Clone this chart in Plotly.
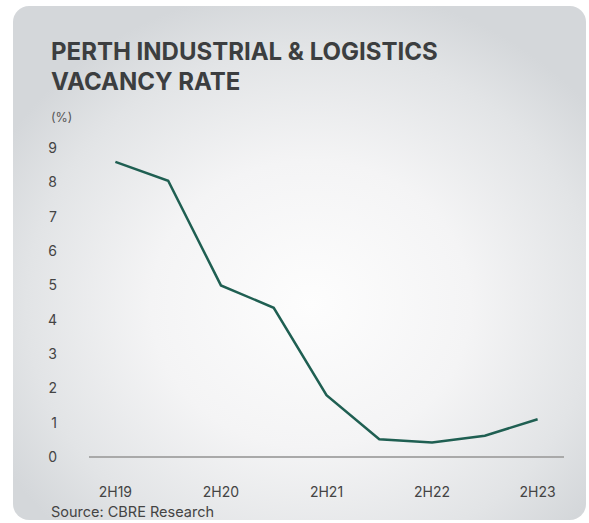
import base64
import plotly.graph_objects as go

periods = ["2H19", "1H20", "2H20", "1H21", "2H21", "1H22", "2H22", "1H23", "2H23"]
vacancy = [8.6, 8.05, 5.0, 4.35, 1.8, 0.52, 0.42, 0.62, 1.1]
tick_labels = ["2H19", "", "2H20", "", "2H21", "", "2H22", "", "2H23"]
y_ticks = [0, 1, 2, 3, 4, 5, 6, 7, 8, 9]

W, H = 589, 523
L, R, T, B = 89, 25, 131, 66
PW, PH = W - L - R, H - T - B

def px(x):
    return (x - L) / PW

def py(y):
    return (H - B - y) / PH

svg = f'''<svg xmlns="http://www.w3.org/2000/svg" width="{W}" height="{H}" viewBox="0 0 {W} {H}">
<defs><radialGradient id="g" cx="52%" cy="58%" r="62%">
<stop offset="0" stop-color="#fdfdfd"/>
<stop offset="0.45" stop-color="#f4f4f5"/>
<stop offset="0.8" stop-color="#e2e4e6"/>
<stop offset="1" stop-color="#d4d7da"/>
</radialGradient></defs>
<rect x="0" y="0" width="{W}" height="{H}" fill="#ffffff"/>
<rect x="13" y="6" width="573" height="514" rx="16" ry="16" fill="url(#g)"/>
</svg>'''
src = "data:image/svg+xml;base64," + base64.b64encode(svg.encode()).decode()

fig = go.Figure()
fig.add_trace(go.Scatter(
    x=list(range(len(periods))), y=vacancy, mode="lines",
    line=dict(color="#1f5f52", width=2.5), hoverinfo="skip",
))

font_family = "Inter, Roboto, Arial, sans-serif"
fig.update_layout(
    width=W, height=H,
    margin=dict(l=L, r=R, t=T, b=B, pad=0),
    paper_bgcolor="#ffffff", plot_bgcolor="rgba(0,0,0,0)",
    showlegend=False,
    font=dict(family=font_family, color="#444444", size=14),
    xaxis=dict(
        range=[-0.5, 8.5], tickmode="array", tickvals=list(range(len(periods))),
        ticktext=tick_labels, showgrid=False, zeroline=False, showline=False,
        ticks="", ticklabelstandoff=25, tickfont=dict(size=14, color="#444444"),
    ),
    yaxis=dict(
        range=[0, 9.5], tickmode="array", tickvals=y_ticks, showgrid=False,
        zeroline=True, zerolinecolor="#a9a9a9", zerolinewidth=2, showline=False,
        ticks="", ticklabelstandoff=31, tickfont=dict(size=14, color="#444444"),
    ),
    images=[dict(source=src, xref="paper", yref="paper", x=px(0), y=py(0),
                 sizex=W / PW, sizey=H / PH, xanchor="left", yanchor="top",
                 sizing="stretch", layer="below")],
    annotations=[
        dict(text="<b>PERTH INDUSTRIAL & LOGISTICS</b>", xref="paper", yref="paper",
             x=px(49), y=py(51), xanchor="left", yanchor="middle", showarrow=False,
             font=dict(size=24, color="#3c3e40", family=font_family)),
        dict(text="<b>VACANCY RATE</b>", xref="paper", yref="paper",
             x=px(49), y=py(81), xanchor="left", yanchor="middle", showarrow=False,
             font=dict(size=24, color="#3c3e40", family=font_family)),
        dict(text="(%)", xref="paper", yref="paper",
             x=px(49), y=py(117), xanchor="left", yanchor="middle", showarrow=False,
             font=dict(size=12.5, color="#555555", family=font_family)),
        dict(text="Source: CBRE Research", xref="paper", yref="paper",
             x=px(49), y=py(511), xanchor="left", yanchor="middle", showarrow=False,
             font=dict(size=14.5, color="#444444", family=font_family)),
    ],
)

fig.write_html("out.html", config={"displayModeBar": False},
               post_script="document.body.style.margin='0';document.body.style.overflow='hidden';")
